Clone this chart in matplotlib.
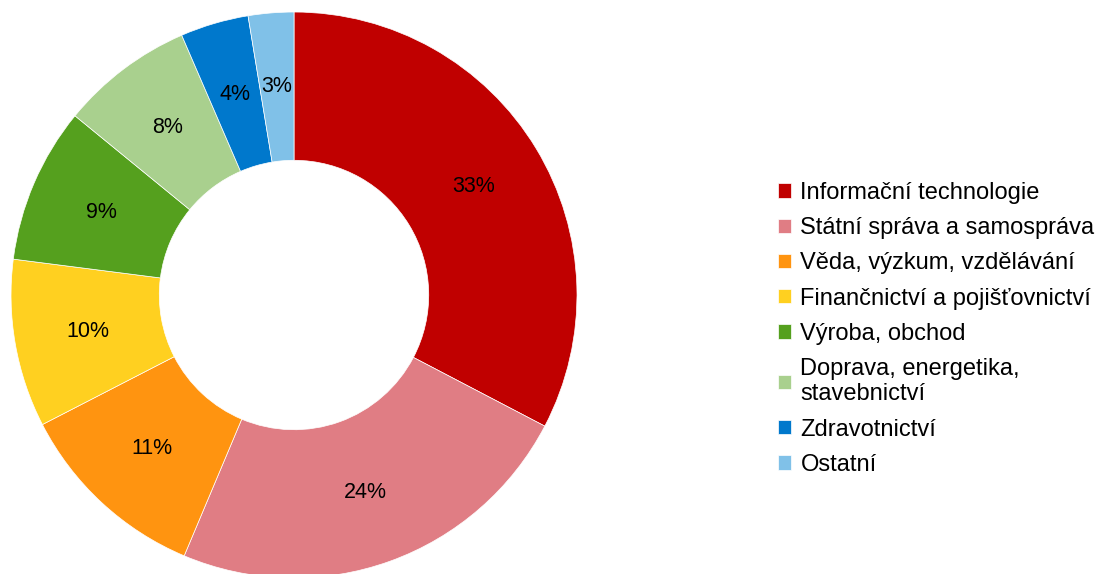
import matplotlib.pyplot as plt

plt.rcParams['font.family'] = ['Liberation Sans', 'DejaVu Sans']

categories = ["Informační technologie", "Státní správa a samospráva",
              "Věda, výzkum, vzdělávání", "Finančnictví a pojišťovnictví",
              "Výroba, obchod", "Doprava, energetika,\nstavebnictví",
              "Zdravotnictví", "Ostatní"]
shares = [32.7, 23.7, 11.1, 9.6, 8.9, 7.6, 3.9, 2.6]
colors = ["#C00000", "#E07D84", "#FF9410", "#FFD020",
          "#55A01E", "#A9D08E", "#0078CC", "#80C1E8"]

fig = plt.figure(figsize=(11.02, 5.74), dpi=100)
ax = fig.add_axes([0.0100, -0.0070, 0.5136, 0.9861])

wedges, texts, autotexts = ax.pie(
    shares, colors=colors, startangle=90, counterclock=False,
    autopct="%.0f%%", pctdistance=0.74,
    wedgeprops=dict(width=0.524, edgecolor="white", linewidth=0.5),
    textprops=dict(fontsize=15.5, color="black"))
ax.set_xlim(-1, 1)
ax.set_ylim(-1, 1)
ax.set_aspect("equal")
ax.axis("off")

fig.legend(wedges, categories, loc="center left",
           bbox_to_anchor=(0.706, 0.427), frameon=False, fontsize=17,
           borderpad=0, borderaxespad=0,
           handlelength=0.55, handleheight=0.55, handletextpad=0.4,
           labelspacing=0.56)

plt.savefig("out.png", dpi=100)
